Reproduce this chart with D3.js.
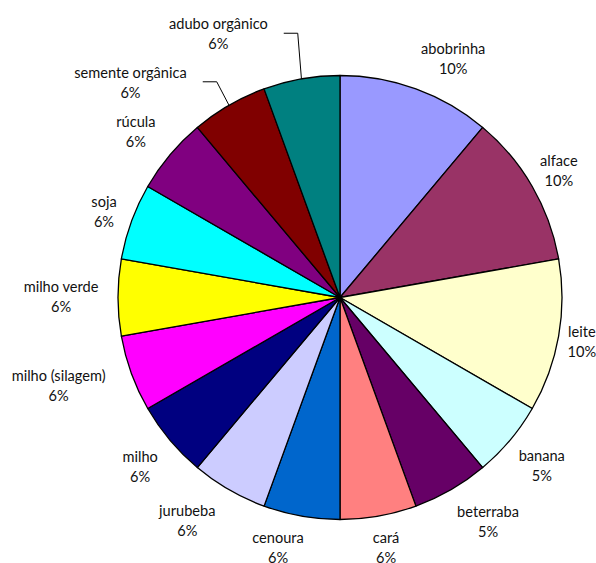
<!DOCTYPE html>
<html>
<head>
<meta charset="utf-8">
<script src="https://cdn.jsdelivr.net/npm/d3@7"></script>
<style>
  html, body { margin: 0; padding: 0; background: #fff; }
  svg { display: block; }
  text { font-family: Lato, "Open Sans", sans-serif; font-size: 14.6px; fill: #111; }
</style>
</head>
<body>
<svg id="chart" width="596" height="563"></svg>
<script>
// ---- data ----
const categories = ["abobrinha", "alface", "leite", "banana", "beterraba", "cará", "cenoura",
  "jurubeba", "milho", "milho (silagem)", "milho verde", "soja", "rúcula",
  "semente orgânica", "adubo orgânico"];
const values = [2, 2, 2, 1, 1, 1, 1, 1, 1, 1, 1, 1, 1, 1, 1];
const percentLabels = ["10%", "10%", "10%", "5%", "5%", "6%", "6%", "6%", "6%", "6%", "6%", "6%", "6%", "6%", "6%"];
const colors = ["#9999FF", "#993366", "#FFFFCC", "#CCFFFF", "#660066", "#FF8080", "#0066CC",
  "#CCCCFF", "#000080", "#FF00FF", "#FFFF00", "#00FFFF", "#800080", "#800000", "#008080"];

// ---- label layout (angle offset in degrees from slice middle, radius) ----
const labelAngleOffset = [5.4, -0.1, 0.5, -0.1, -3.4, -0.4, 3.9, 4.3, -0.3, 2.5, 0.2, -0.1, -0.9, -14.3, -14.8];
const labelRadius = [264, 253, 246, 263, 269, 255, 258, 271, 262, 295, 279, 251, 263, 300, 290];
const leaderLines = [13, 14]; // indices with leader lines

const svg = d3.select("#chart");
const cx = 340, cy = 297.5, R = 222;
const g = svg.append("g").attr("transform", `translate(${cx},${cy})`);

const pie = d3.pie().sort(null).value(d => d.v);
const data = categories.map((c, i) => ({ c, v: values[i], p: percentLabels[i], i }));
const arcs = pie(data);
const arc = d3.arc().innerRadius(0).outerRadius(R);

g.selectAll("path.slice").data(arcs).join("path")
  .attr("class", "slice")
  .attr("d", arc)
  .attr("fill", (d, i) => colors[i])
  .attr("stroke", "#000")
  .attr("stroke-width", 1.3)
  .attr("stroke-linejoin", "round");

const polar = (ang, r) => [r * Math.sin(ang), -r * Math.cos(ang)];

arcs.forEach((d, i) => {
  const mid = (d.startAngle + d.endAngle) / 2;
  const a = mid + labelAngleOffset[i] * Math.PI / 180;
  const [x, y] = polar(a, labelRadius[i]);
  const t = g.append("text").attr("text-anchor", "middle");
  t.append("tspan").attr("x", x).attr("y", y - 10 + 5).text(d.data.c);
  t.append("tspan").attr("x", x).attr("y", y + 10 + 5).text(d.data.p);
  if (leaderLines.includes(i)) {
    const bb = t.node().getBBox();
    const [ex, ey] = polar(mid, R);
    const sx = bb.x + bb.width + 16;
    const ky = y - 1;
    g.append("path")
      .attr("d", `M${sx},${ky}H${sx + 14}L${ex},${ey}`)
      .attr("fill", "none").attr("stroke", "#000").attr("stroke-width", 1);
  }
});
</script>
</body>
</html>
